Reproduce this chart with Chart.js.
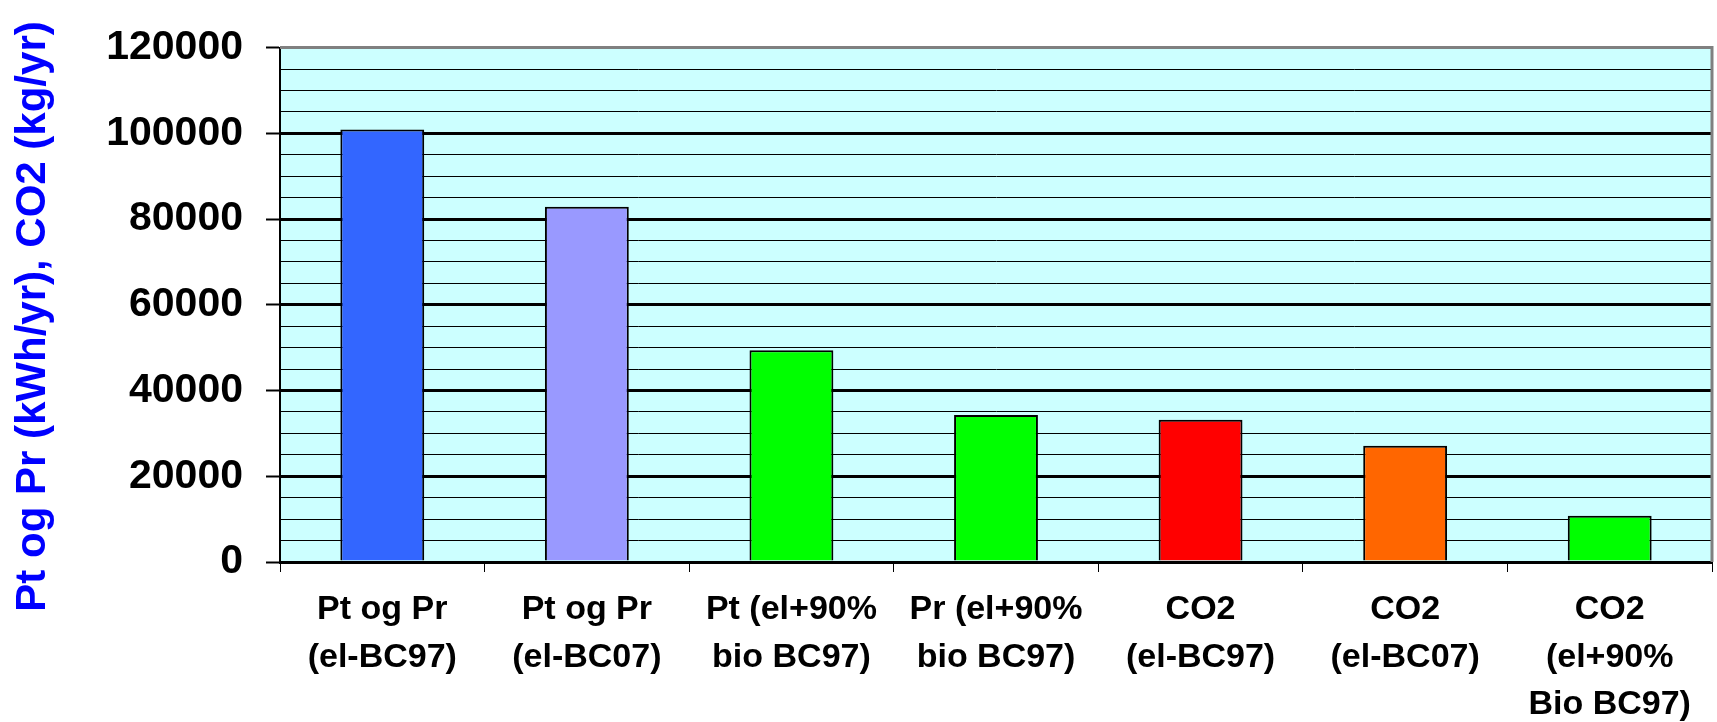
<!DOCTYPE html>
<html>
<head>
<meta charset="utf-8">
<script src="https://cdn.jsdelivr.net/npm/chart.js@4"></script>
<style>
  html, body { margin:0; padding:0; background:#fff; }
  #wrap { width:1717px; height:722px; }
</style>
</head>
<body>
<div id="wrap"><canvas id="barChart" width="1717" height="722"></canvas></div>
<script>
// categories (multi-line labels) and values
const categories = [
    ["Pt og Pr", "(el-BC97)"],
    ["Pt og Pr", "(el-BC07)"],
    ["Pt (el+90%", "bio BC97)"],
    ["Pr (el+90%", "bio BC97)"],
    ["CO2", "(el-BC97)"],
    ["CO2", "(el-BC07)"],
    ["CO2", "(el+90%", "Bio BC97)"]
];
const values = [100900, 82900, 49400, 34300, 33200, 27100, 10800];
const barColors = ["#3366FF", "#9999FF", "#00FF00", "#00FF00", "#FF0000", "#FF6600", "#00FF00"];
const yTitle = "Pt og Pr (kWh/yr), CO2 (kg/yr)";

const FONT = "'Liberation Sans', Arial, sans-serif";

// plot background + grey frame on top/right
const plotFrame = {
    id: 'plotFrame',
    beforeDraw(c) {
        const a = c.chartArea, ctx = c.ctx;
        ctx.save();
        ctx.fillStyle = '#CCFFFF';
        ctx.fillRect(a.left, a.top, a.right - a.left, a.bottom - a.top);
        ctx.restore();
    },
    afterDatasetsDraw(c) {
        const a = c.chartArea, ctx = c.ctx;
        ctx.save();
        ctx.strokeStyle = '#808080';
        ctx.lineWidth = 3;
        ctx.beginPath();
        ctx.moveTo(a.left, a.top);
        ctx.lineTo(a.right, a.top);
        ctx.lineTo(a.right, a.bottom);
        ctx.stroke();
        ctx.restore();
    }
};

new Chart(document.getElementById('barChart'), {
    type: 'bar',
    data: {
        labels: categories,
        datasets: [{
            data: values,
            backgroundColor: barColors,
            borderColor: '#000',
            borderWidth: 2,
            barPercentage: 0.41,
            categoryPercentage: 1
        }]
    },
    options: {
        responsive: false,
        animation: false,
        layout: { padding: { top: 41, right: 5, left: 0, bottom: 0 } },
        plugins: {
            legend: { display: false },
            tooltip: { enabled: false }
        },
        scales: {
            x: {
                afterFit(s) { s.height = 160; },
                grid: {
                    offset: true,
                    drawOnChartArea: false,
                    tickLength: 10,
                    color: '#000',
                    lineWidth: 1
                },
                border: { color: '#000', width: 2 },
                ticks: {
                    color: '#000',
                    padding: 14,
                    maxRotation: 0,
                    autoSkip: false,
                    font: { family: FONT, size: 34, weight: 'bold', lineHeight: 1.4 }
                }
            },
            y: {
                min: 0,
                max: 120000,
                afterFit(s) { s.width = 280; },
                grid: {
                    color: '#000',
                    lineWidth: ctx => ctx.tick.value % 20000 === 0 ? 3 : 1,
                    tickColor: ctx => ctx.tick.value % 20000 === 0 ? '#000' : 'rgba(0,0,0,0)',
                    tickWidth: 2,
                    tickLength: 14
                },
                border: { color: '#000', width: 2 },
                ticks: {
                    stepSize: 5000,
                    color: '#000',
                    padding: 23,
                    autoSkip: false,
                    font: { family: FONT, size: 41, weight: 'bold' },
                    callback: v => v % 20000 === 0 ? String(v) : ''
                },
                title: {
                    display: true,
                    // trailing spaces nudge the rotated title down a little
                    text: yTitle + "  ",
                    color: '#0000FF',
                    padding: { top: 8, bottom: 0 },
                    font: { family: FONT, size: 42, weight: 'bold' }
                }
            }
        }
    },
    plugins: [plotFrame]
});
</script>
</body>
</html>
